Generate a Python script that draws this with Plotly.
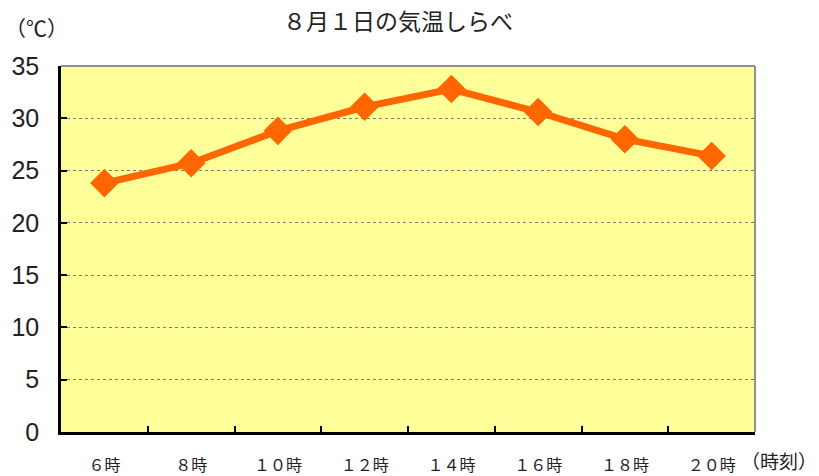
import plotly.graph_objects as go

categories = ["６時", "８時", "１０時", "１２時", "１４時", "１６時", "１８時", "２０時"]
temps = [23.8, 25.7, 28.8, 31.1, 32.8, 30.6, 28.0, 26.4]
y_ticks = [0, 5, 10, 15, 20, 25, 30, 35]

font_jp = "Noto Sans CJK JP"
font_num = "Liberation Sans"

fig = go.Figure()
fig.add_trace(go.Scatter(
    x=categories, y=temps, mode="lines+markers",
    line=dict(color="#FF6600", width=7),
    marker=dict(symbol="diamond", size=22, color="#FF6600"),
    showlegend=False,
))

fig.update_layout(
    width=819, height=476,
    margin=dict(l=61, r=64, t=66, b=44),
    paper_bgcolor="white",
    plot_bgcolor="#FFFF99",
    title=dict(text="８月１日の気温しらべ", x=0.486, xanchor="center", y=0.953, yanchor="middle",
               font=dict(family=font_jp, size=23, color="#222")),
    shapes=[
        dict(type="line", xref="paper", yref="paper", x0=0, x1=1, y0=1, y1=1,
             line=dict(color="#909090", width=2)),
        dict(type="line", xref="paper", yref="paper", x0=1, x1=1, y0=0, y1=1,
             line=dict(color="#909090", width=2)),
    ],
    annotations=[
        dict(text="（℃）", xref="paper", yref="paper", x=-0.036, y=1.107, xanchor="center",
             yanchor="middle", showarrow=False, font=dict(family=font_jp, size=21, color="#222")),
        dict(text="（時刻）", xref="paper", yref="paper", x=1.091, y=-0.077, xanchor="right",
             yanchor="middle", showarrow=False, borderpad=0,
             font=dict(family=font_jp, size=19, color="#222")),
    ],
)

fig.update_xaxes(
    type="category", range=[-0.5, 7.5], tickson="boundaries",
    ticks="inside", ticklen=6, tickwidth=2, tickcolor="black",
    showline=True, linecolor="black", linewidth=2.5,
    showgrid=False, zeroline=False, automargin=False,
    tickfont=dict(family=font_jp, size=16, color="#222"),
    ticklabelstandoff=17,
)
fig.update_yaxes(
    range=[0, 35], tickvals=y_ticks,
    ticks="inside", ticklen=6, tickwidth=2, tickcolor="black",
    showline=True, linecolor="black", linewidth=2.5,
    showgrid=True, gridcolor="#808060", griddash="dot", gridwidth=1,
    zeroline=False, automargin=False,
    tickfont=dict(family=font_num, size=25, color="#222"),
    ticklabelstandoff=14,
)

fig.write_html(
    "out.html",
    config={"displayModeBar": False},
    post_script="document.body.style.margin='0';document.body.style.overflow='hidden';",
)
